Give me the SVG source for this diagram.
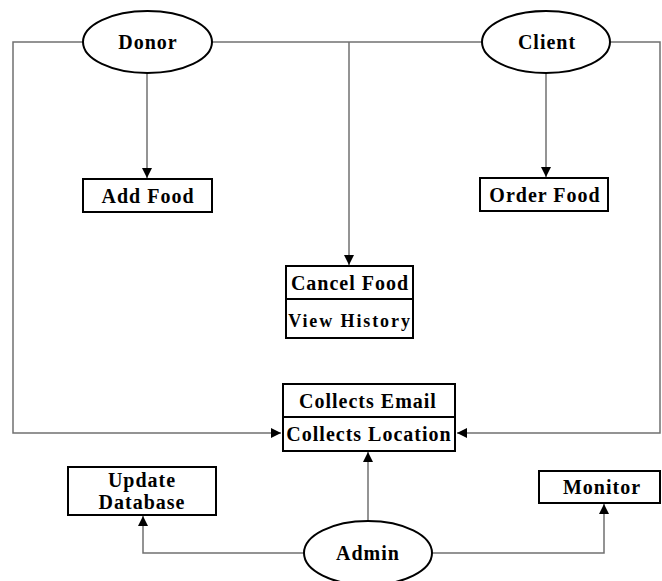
<svg xmlns="http://www.w3.org/2000/svg" width="662" height="581" viewBox="0 0 662 581">
<defs>
<marker id="ah" viewBox="0 0 10 10" refX="10" refY="5" markerWidth="10" markerHeight="10" markerUnits="userSpaceOnUse" orient="auto">
<path d="M0,0 L10,5 L0,10 Z" fill="#000"/>
</marker>
<style>
.line{fill:none;stroke:#707070;stroke-width:1.5}
.box{fill:#fff;stroke:#000;stroke-width:2}
.ell{fill:#fff;stroke:#000;stroke-width:2}
.t{font-family:"Liberation Serif","Times New Roman",serif;font-weight:bold;font-size:20px;fill:#000;text-anchor:middle;letter-spacing:1px}
</style>
</defs>
<rect width="662" height="581" fill="#fff"/>
<g id="connectors">
<path class="line" d="M83,42 H13 V433 H281" marker-end="url(#ah)"/>
<path class="line" d="M212,42 H482"/>
<path class="line" d="M610,42 H660 V433 H457" marker-end="url(#ah)"/>
<path class="line" d="M349,42 V265" marker-end="url(#ah)"/>
<path class="line" d="M147,73 V178" marker-end="url(#ah)"/>
<path class="line" d="M546,73 V177" marker-end="url(#ah)"/>
<path class="line" d="M368,521 V452" marker-end="url(#ah)"/>
<path class="line" d="M304,553 H143 V516" marker-end="url(#ah)"/>
<path class="line" d="M432,553 H604 V504" marker-end="url(#ah)"/>
</g>
<g id="donor">
<ellipse class="ell" cx="147.5" cy="42" rx="64.5" ry="31"/>
<text class="t" x="148" y="49">Donor</text>
</g>
<g id="client">
<ellipse class="ell" cx="546" cy="42" rx="64" ry="31"/>
<text class="t" x="547" y="49">Client</text>
</g>
<g id="add-food">
<rect class="box" x="83" y="179" width="129" height="33"/>
<text class="t" x="148" y="203">Add Food</text>
</g>
<g id="order-food">
<rect class="box" x="480" y="178" width="128" height="33"/>
<text class="t" x="545" y="202">Order Food</text>
</g>
<g id="cancel-view">
<rect class="box" x="286" y="266" width="127" height="72"/>
<line x1="286" y1="299" x2="413" y2="299" stroke="#000" stroke-width="2"/>
<text class="t" x="350" y="290">Cancel Food</text>
<text class="t" x="350" y="327" style="letter-spacing:1.9px;font-size:18px">View History</text>
</g>
<g id="collects">
<rect class="box" x="283" y="384" width="172" height="67"/>
<line x1="283" y1="417" x2="455" y2="417" stroke="#000" stroke-width="2"/>
<text class="t" x="368" y="408">Collects Email</text>
<text class="t" x="369" y="441">Collects Location</text>
</g>
<g id="update-database">
<rect class="box" x="68" y="467" width="148" height="48"/>
<text class="t" x="142" y="487">Update</text>
<text class="t" x="142" y="509">Database</text>
</g>
<g id="monitor">
<rect class="box" x="539" y="471" width="121" height="32"/>
<text class="t" x="602" y="494">Monitor</text>
</g>
<g id="admin">
<ellipse class="ell" cx="368" cy="553" rx="64" ry="32"/>
<text class="t" x="368" y="560">Admin</text>
</g>
</svg>
